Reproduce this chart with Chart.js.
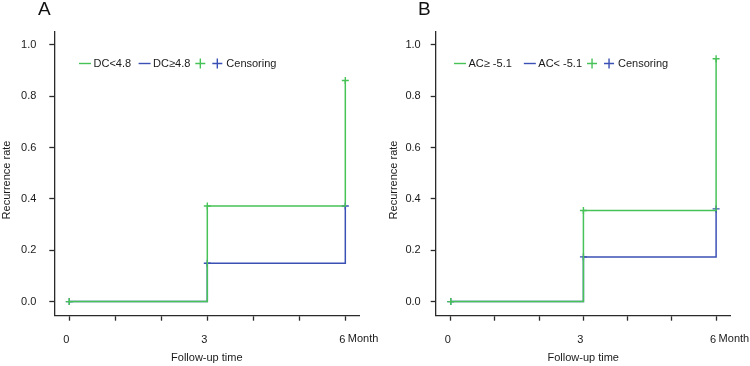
<!DOCTYPE html>
<html>
<head>
<meta charset="utf-8">
<script src="https://cdn.jsdelivr.net/npm/chart.js@4"></script>
<style>
  body { margin: 0; background: #fff; }
  #wrap { position: relative; width: 750px; height: 366px; overflow: hidden; }
  canvas { position: absolute; top: 0; }
  .tag { position: absolute; top: -2px; font: 19px "Liberation Sans", Arial, sans-serif; color: #111; }
</style>
</head>
<body>
<div id="wrap">
  <canvas id="chartA" width="382" height="366" style="left:0"></canvas>
  <canvas id="chartB" width="375" height="366" style="left:375px"></canvas>
  <div class="tag" style="left:38px">A</div>
  <div class="tag" style="left:418px">B</div>
</div>
<script>
// follow-up time points (months)
const times = [0, 3, 6];
// panel A
const dcLow = [0, 0.372, 0.861];   // DC<4.8
const dcHigh = [0, 0.149, 0.372];  // DC≥4.8
// panel B
const acHigh = [0, 0.355, 0.946];  // AC≥ -5.1
const acLow = [0, 0.174, 0.361];   // AC< -5.1

const yTicks = [0, 0.2, 0.4, 0.6, 0.8, 1.0];
const xTicks = [0, 1, 2, 3, 4, 5, 6];
const xLabelled = [0, 3, 6];

const GREEN = "#47c257";
const BLUE = "#3b50b4";
const AXIS = "#2a2a2a";
const TEXT = "#1a1a1a";
const FONT = '"Liberation Sans", Arial, sans-serif';

// legend drawn inside the plot area, like the R output
const kmLegend = {
  id: "kmLegend",
  afterDraw(chart, args, opts) {
    const { ctx, chartArea } = chart;
    const ds = chart.data.datasets;
    let x = chartArea.left + opts.left;
    const y = chartArea.top + opts.top;
    ctx.save();
    ctx.font = "11px " + FONT;
    ctx.textBaseline = "middle";
    ctx.fillStyle = TEXT;
    ctx.lineWidth = 1.4;
    ds.forEach((d, i) => {
      ctx.strokeStyle = d.borderColor;
      ctx.beginPath();
      ctx.moveTo(x, y);
      ctx.lineTo(x + 12, y);
      ctx.stroke();
      x += 14.5;
      ctx.fillText(d.label, x, y);
      x += ctx.measureText(d.label).width + (i === 0 ? opts.gap : 10);
    });
    ds.forEach((d) => {
      ctx.strokeStyle = d.borderColor;
      ctx.beginPath();
      ctx.moveTo(x - 5, y);
      ctx.lineTo(x + 5, y);
      ctx.moveTo(x, y - 5);
      ctx.lineTo(x, y + 5);
      ctx.stroke();
      x += 17;
    });
    ctx.fillText("Censoring", x - 8, y);
    ctx.restore();
  }
};

// "Month" unit written after the last x tick label
const monthUnit = {
  id: "monthUnit",
  afterDraw(chart, args, opts) {
    const xs = chart.scales.x;
    const { ctx } = chart;
    ctx.save();
    ctx.font = "11px " + FONT;
    ctx.fillStyle = TEXT;
    ctx.textBaseline = "middle";
    ctx.fillText("Month", xs.getPixelForValue(xLabelled[xLabelled.length - 1]) + opts.dx, xs.top + 23);
    ctx.restore();
  }
};

function makeChart(id, series, labels, cfg) {
  const datasets = series.map((vals, i) => ({
    label: labels[i],
    data: times.map((t, j) => ({ x: t, y: vals[j] })),
    borderColor: i === 0 ? GREEN : BLUE,
    borderWidth: 1.5,
    stepped: "before",
    fill: false,
    pointStyle: "cross",
    pointRadius: 3.5,
    pointBorderWidth: 1.4,
    pointHoverRadius: 3.5
  }));

  return new Chart(document.getElementById(id), {
    type: "line",
    data: { datasets },
    plugins: [kmLegend, monthUnit],
    options: {
      responsive: false,
      animation: false,
      layout: { padding: { left: cfg.padLeft, top: 32, right: cfg.padRight, bottom: 0 } },
      plugins: {
        legend: { display: false },
        tooltip: { enabled: false },
        kmLegend: { left: cfg.legendLeft, top: 31.5, gap: cfg.legendGap },
        monthUnit: { dx: cfg.monthDx }
      },
      scales: {
        x: {
          type: "linear",
          min: cfg.xMin,
          max: cfg.xMax,
          afterBuildTicks: (axis) => { axis.ticks = xTicks.map((v) => ({ value: v })); },
          afterFit: (axis) => { axis.height = 50.3; },
          border: { display: true, color: AXIS, width: 1.3 },
          grid: { drawOnChartArea: false, drawTicks: true, tickLength: 5, tickColor: AXIS, tickWidth: 1.3 },
          ticks: {
            padding: 12.5,
            labelOffset: -3,
            maxRotation: 0,
            autoSkip: false,
            color: TEXT,
            font: { family: FONT, size: 11 },
            callback: (v) => (xLabelled.includes(v) ? String(v) : "")
          },
          title: {
            display: true,
            text: "Follow-up time",
            color: TEXT,
            font: { family: FONT, size: 11 },
            padding: { top: 0, bottom: 1 }
          }
        },
        y: {
          min: -0.055,
          max: 1.05,
          afterBuildTicks: (axis) => { axis.ticks = yTicks.map((v) => ({ value: v })); },
          afterFit: (axis) => { axis.width = cfg.yWidth; },
          border: { display: true, color: AXIS, width: 1.3 },
          grid: { drawOnChartArea: false, drawTicks: true, tickLength: 5, tickColor: AXIS, tickWidth: 1.3 },
          ticks: {
            padding: cfg.yPad,
            color: TEXT,
            font: { family: FONT, size: 11 },
            callback: (v) => v.toFixed(1)
          },
          title: {
            display: true,
            text: "Recurrence rate    ",
            color: TEXT,
            font: { family: FONT, size: 11 },
            padding: { top: 0, bottom: 0 }
          }
        }
      }
    }
  });
}

makeChart("chartA", [dcLow, dcHigh], ["DC<4.8", "DC≥4.8"], {
  padLeft: 0, padRight: 22.7, yWidth: 54.3, yPad: 13,
  xMin: -0.326, xMax: 6.304,
  legendLeft: 24.7, legendGap: 7.5, monthDx: 2.5
});

makeChart("chartB", [acHigh, acLow], ["AC≥ -5.1", "AC< -5.1"], {
  padLeft: 12, padRight: 19.3, yWidth: 48.7, yPad: 10,
  xMin: -0.34, xMax: 6.33,
  legendLeft: 18.3, legendGap: 12, monthDx: 2.5
});
</script>
</body>
</html>
